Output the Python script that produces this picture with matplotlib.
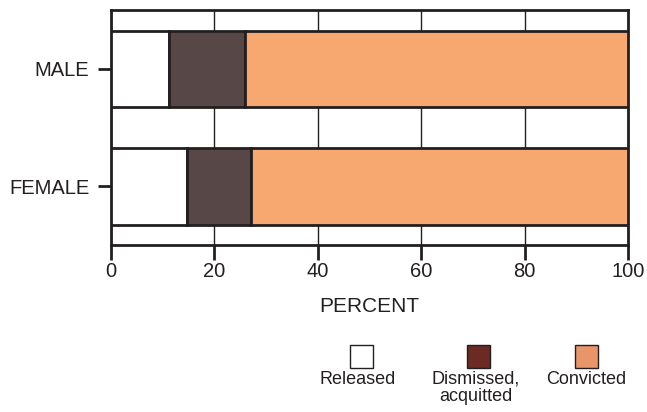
import matplotlib.pyplot as plt
from matplotlib.patches import Rectangle

plt.rcParams['font.family'] = ['Liberation Sans', 'DejaVu Sans']

# data (percent)
groups = ['MALE', 'FEMALE']
released = [11.2, 14.7]
dismissed = [14.7, 12.4]
convicted = [74.1, 72.9]
ticks = [0, 20, 40, 60, 80, 100]

bar_colors = ['#ffffff', '#574747', '#f7a870']
legend_colors = ['#ffffff', '#6b2a24', '#e8956a']
legend_labels = ['Released', 'Dismissed,\nacquitted', 'Convicted']
ink = '#231f20'

fig = plt.figure(figsize=(6.47, 4.12), dpi=100)
ax = fig.add_axes([0.1716, 0.405, 0.799, 0.5707])

ypos = [1, 0]
left = [0, 0]
for vals, col in zip([released, dismissed, convicted], bar_colors):
    ax.barh(ypos, vals, left=left, height=0.65, color=col,
            edgecolor=ink, linewidth=2, zorder=3)
    left = [l + v for l, v in zip(left, vals)]

ax.set_xlim(0, 100)
ax.set_ylim(-0.5, 1.5)
ax.set_xticks(ticks)
ax.set_xticklabels([str(t) for t in ticks], fontsize=14.5)
ax.set_yticks(ypos)
ax.set_yticklabels(groups, fontsize=14.5)
ax.grid(axis='x', color=ink, linewidth=1, zorder=0)
ax.set_axisbelow(True)
for s in ax.spines.values():
    s.set_linewidth(2)
    s.set_color(ink)
ax.tick_params(axis='x', width=2, length=11, color=ink, labelcolor=ink, pad=1)
ax.tick_params(axis='y', width=2, length=9.5, color=ink, labelcolor=ink, pad=6)
ax.set_xlabel('PERCENT', fontsize=15, labelpad=11.5, color=ink)

# legend drawn by hand under the plot
sq_x = [350, 467, 575]
sq_w = 23
for x, col in zip(sq_x, legend_colors):
    fig.add_artist(Rectangle((x / 647, 1 - 368 / 412), sq_w / 647, sq_w / 412,
                             transform=fig.transFigure, facecolor=col,
                             edgecolor=ink, linewidth=1))
cx = [358, 476, 586]
for x, lab in zip(cx, legend_labels):
    fig.text(x / 647, 1 - 371 / 412, lab, ha='center', va='top',
             fontsize=13, color=ink, linespacing=1.0)

fig.savefig('out.png', dpi=100)
